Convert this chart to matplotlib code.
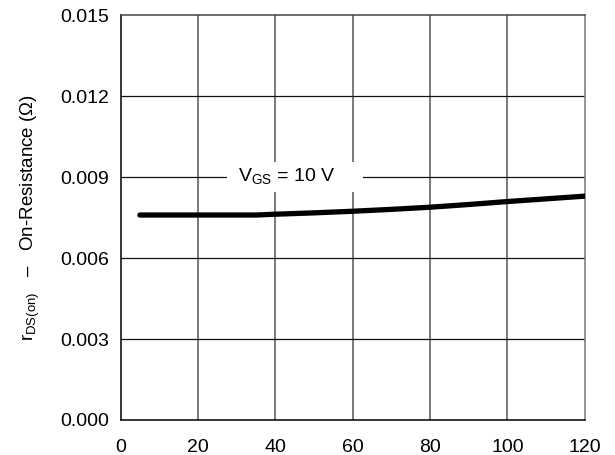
import matplotlib
matplotlib.use('Agg')
import matplotlib.pyplot as plt
import matplotlib.ticker as ticker
from matplotlib.patches import Rectangle

plt.rcParams['font.family'] = ['Liberation Sans', 'DejaVu Sans']
plt.rcParams['mathtext.fontset'] = 'custom'
plt.rcParams['mathtext.rm'] = 'Liberation Sans'

# drain current (A) vs on-resistance (ohm), VGS = 10 V
i_d = [5, 20, 35, 40, 50, 60, 70, 80, 90, 100, 110, 120]
r_ds_on = [0.0076, 0.0076, 0.0076, 0.00763, 0.00768, 0.00774, 0.00781,
           0.00789, 0.00799, 0.0081, 0.0082, 0.0083]

x_ticks = [0, 20, 40, 60, 80, 100, 120]
y_ticks = [0.000, 0.003, 0.006, 0.009, 0.012, 0.015]


def main():
    fig = plt.figure(figsize=(6.15, 4.55), dpi=100)
    ax = fig.add_axes([0.196, 0.077, 0.755, 0.889])

    ax.set_xlim(0, 120)
    ax.set_ylim(0, 0.015)
    ax.set_xticks(x_ticks)
    ax.set_yticks(y_ticks)
    ax.yaxis.set_major_formatter(ticker.FormatStrFormatter('%.3f'))
    ax.tick_params(axis='both', length=0, labelsize=14)
    ax.tick_params(axis='x', pad=14)
    ax.tick_params(axis='y', pad=8)

    for x in x_ticks[1:-1]:
        ax.axvline(x, color='#555555', lw=1.1, zorder=1)
    for y in y_ticks[1:-1]:
        ax.axhline(y, color='#111111', lw=0.9, zorder=1)

    ax.spines['left'].set_color('black')
    ax.spines['bottom'].set_color('black')
    ax.spines['top'].set_color('#444444')
    ax.spines['right'].set_color('#777777')
    for s in ax.spines.values():
        s.set_linewidth(1.1)

    ax.plot(i_d, r_ds_on, color='black', lw=3.8, solid_capstyle='round', zorder=3)

    # white patch behind the curve label
    ax.add_patch(Rectangle((27.5, 0.00845), 35.1, 0.0011, fc='white', ec='none', zorder=2))
    ax.text(43, 0.009, r'V$_{\mathrm{GS}}$ = 10 V', fontsize=14, ha='center', va='center',
            zorder=4)

    ax.set_ylabel(r'r$_{\mathrm{DS(on)}}$   –   On-Resistance (Ω)', fontsize=13.5, labelpad=13)

    fig.savefig('out.png', dpi=100)


if __name__ == '__main__':
    main()
